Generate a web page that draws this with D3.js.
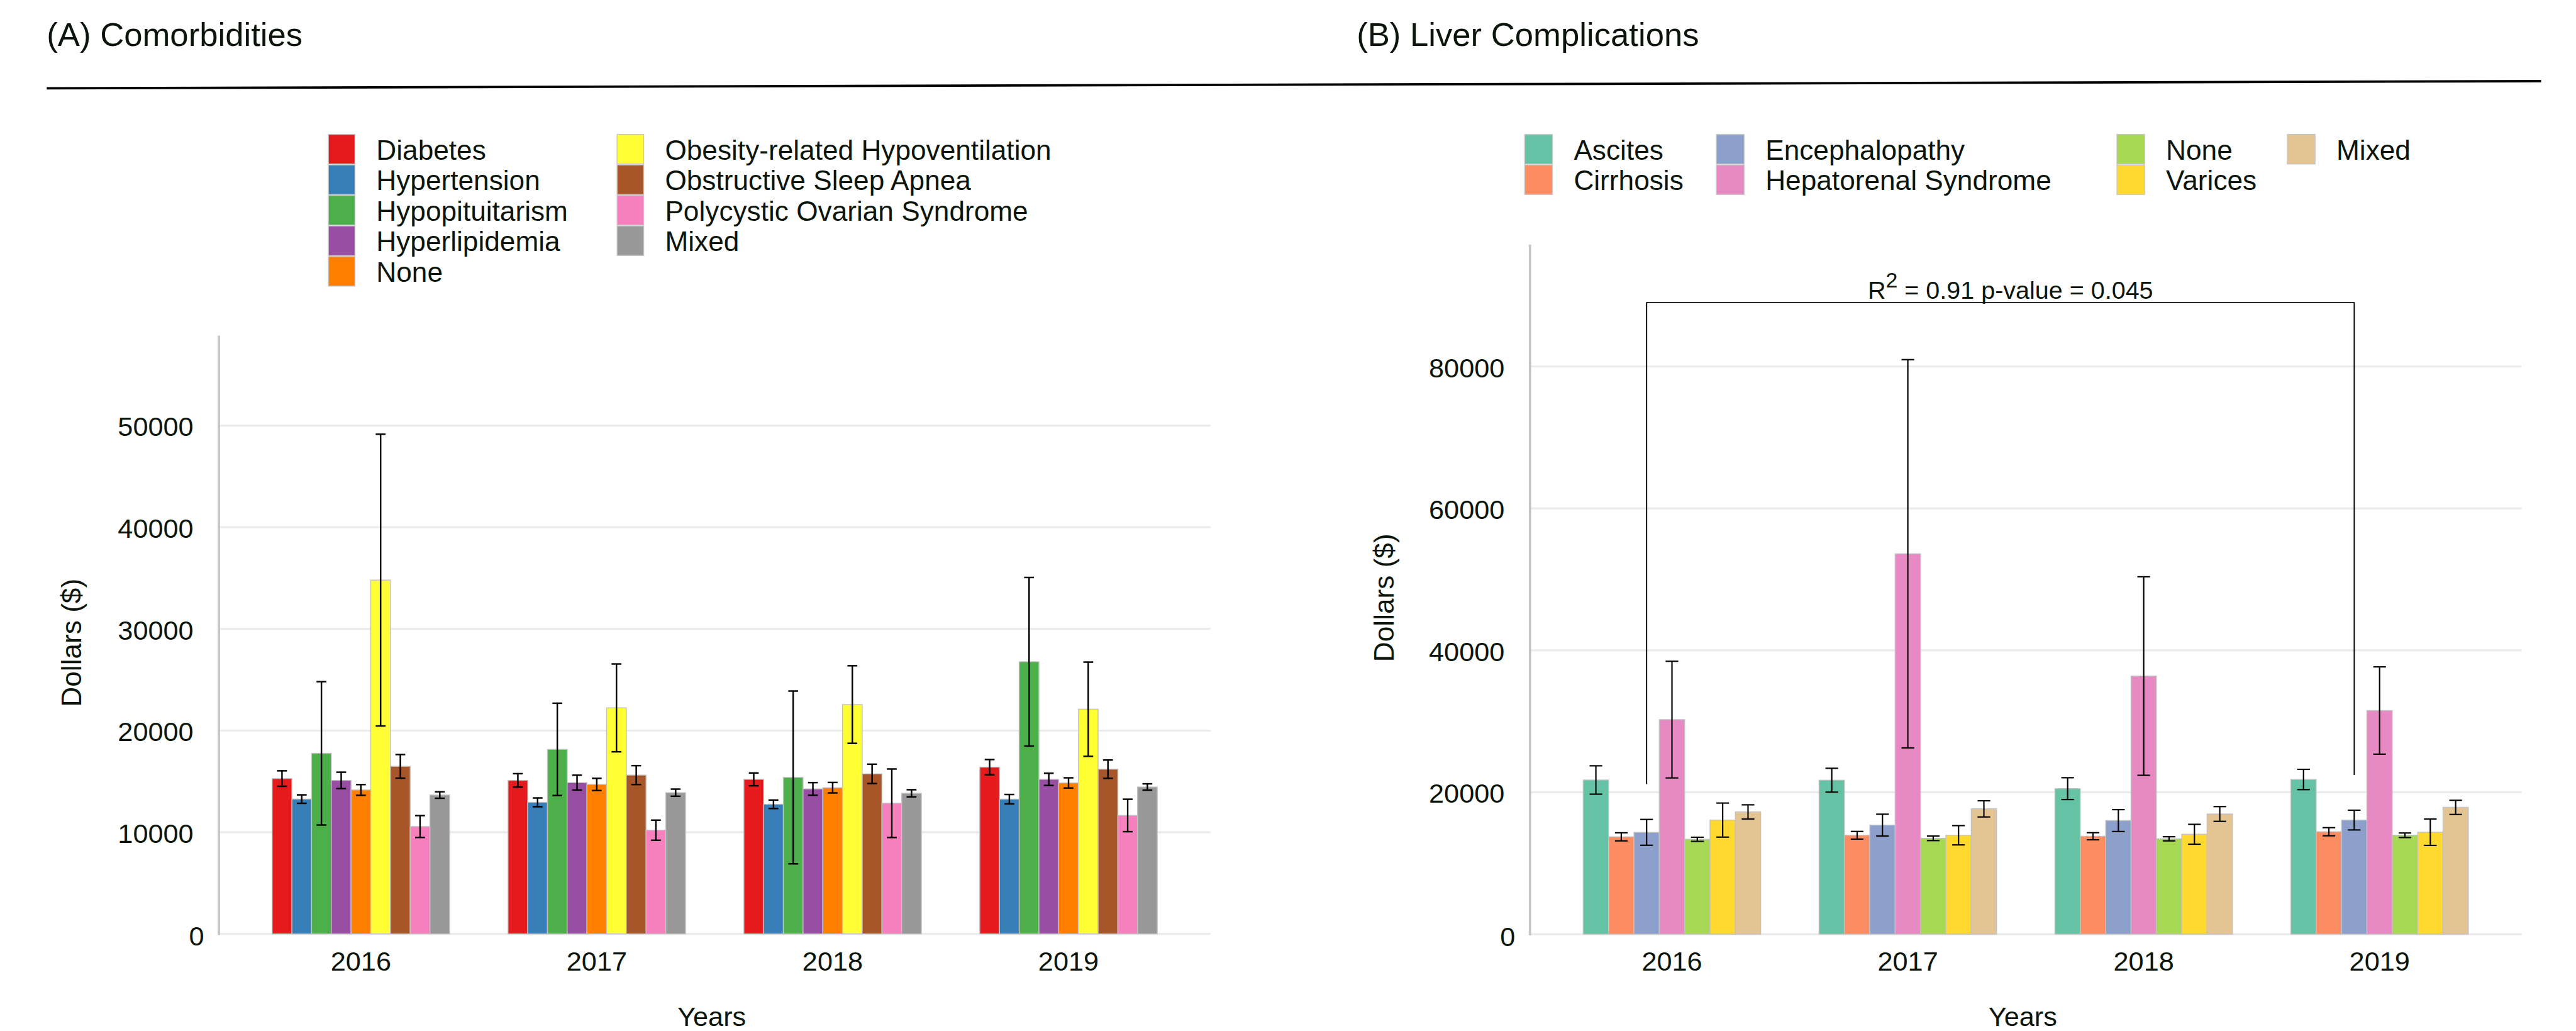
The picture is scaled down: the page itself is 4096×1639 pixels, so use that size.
<!DOCTYPE html>
<html><head><meta charset="utf-8">
<script src="https://cdn.jsdelivr.net/npm/d3@7"></script>
<style>html,body{margin:0;padding:0;background:#fff;overflow:hidden}</style>
</head><body><svg id="chart"></svg>
<script>
// ---------------- DATA ----------------
const years = ["2016", "2017", "2018", "2019"];

// Panel A: Comorbidities
const comorbidities = ["Diabetes", "Hypertension", "Hypopituitarism", "Hyperlipidemia", "None",
  "Obesity-related Hypoventilation", "Obstructive Sleep Apnea", "Polycystic Ovarian Syndrome", "Mixed"];
const comorbColors = ["#e41a1c", "#377eb8", "#4daf4a", "#984ea3", "#ff7f00", "#ffff33", "#a65628", "#f781bf", "#999999"];
const comorbMean2016 = [15280, 13260, 17760, 15100, 14160, 34800, 16480, 10560, 13660];
const comorbErr2016  = [760, 415, 7050, 805, 525, 14350, 1160, 1075, 320];
const comorbMean2017 = [15100, 12940, 18150, 14880, 14700, 22230, 15620, 10200, 13890];
const comorbErr2017  = [660, 430, 4540, 730, 600, 4320, 930, 990, 350];
const comorbMean2018 = [15200, 12750, 15390, 14260, 14380, 22560, 15740, 12850, 13830];
const comorbErr2018  = [630, 415, 8500, 620, 515, 3815, 950, 3370, 350];
const comorbMean2019 = [16400, 13250, 26770, 15200, 14850, 22100, 16200, 11650, 14450];
const comorbErr2019  = [750, 460, 8290, 600, 500, 4635, 900, 1595, 310];
const yTicksA = [0, 10000, 20000, 30000, 40000, 50000];

// Panel B: Liver Complications
const liverComplications = ["Ascites", "Cirrhosis", "Encephalopathy", "Hepatorenal Syndrome", "None", "Varices", "Mixed"];
const liverColors = ["#66c2a5", "#fc8d62", "#8da0cb", "#e78ac3", "#a6d854", "#ffd92f", "#e5c494"];
const liverMean2016 = [21730, 13720, 14350, 30240, 13370, 16080, 17230];
const liverErr2016  = [2000, 570, 1820, 8220, 290, 2400, 1000];
const liverMean2017 = [21700, 13940, 15370, 53610, 13510, 13940, 17660];
const liverErr2017  = [1680, 540, 1540, 27360, 320, 1360, 1140];
const liverMean2018 = [20510, 13800, 16010, 36380, 13440, 14080, 16940];
const liverErr2018  = [1540, 500, 1540, 13990, 290, 1400, 1040];
const liverMean2019 = [21800, 14440, 16080, 31520, 13940, 14370, 17870];
const liverErr2019  = [1430, 570, 1390, 6150, 320, 1860, 1000];
const yTicksB = [0, 20000, 40000, 60000, 80000];

// significance bracket (panel B)
const bracketYears = ["2016", "2019"];
const bracketSeries = "Encephalopathy";
const bracketLegEnds = [21150, 22440];
const bracketTop = 89000;
const bracketLabel = ["R", "2", " = 0.91 p-value = 0.045"];

const titles = ["(A) Comorbidities", "(B) Liver Complications"];
const yAxisTitle = "Dollars ($)";
const xAxisTitle = "Years";

// ---------------- DRAW ----------------
const W = 4354, H = 1742;
const FONT = '"Liberation Sans", Arial, Helvetica, sans-serif';
const TXT = "#0b150b";
const svg = d3.select("#chart").attr("width", 4096).attr("height", 1639)
  .attr("viewBox", `0 0 ${W} ${H}`).style("display", "block");
svg.append("rect").attr("width", W).attr("height", H).attr("fill", "#fff");

// titles and header rule
svg.append("text").attr("x", 79).attr("y", 78).text(titles[0])
  .attr("font-family", FONT).attr("font-size", 56).attr("fill", TXT);
svg.append("text").attr("x", 2293).attr("y", 78).text(titles[1])
  .attr("font-family", FONT).attr("font-size", 56).attr("fill", TXT);
svg.append("line").attr("x1", 79).attr("y1", 149).attr("x2", 4295).attr("y2", 137)
  .attr("stroke", "#000").attr("stroke-width", 4);

function panel(cfg) {
  const g = svg.append("g");
  const plotW = 1676;
  const x0 = d3.scaleBand().domain(years).range([cfg.left, cfg.left + plotW])
    .paddingInner(0.2475).paddingOuter(0.2257);
  const x1 = d3.scaleBand().domain(cfg.series).range([0, x0.bandwidth()]);
  const y = d3.scaleLinear().domain([0, cfg.yMax]).range([cfg.bottom, cfg.top]);

  // grid
  g.selectAll("line.grid").data(cfg.ticks).join("line").attr("class", "grid")
    .attr("x1", cfg.left).attr("x2", cfg.left + plotW)
    .attr("y1", d => y(d)).attr("y2", d => y(d))
    .attr("stroke", "#ebebeb").attr("stroke-width", 3.5);
  // y axis line
  g.append("line").attr("x1", cfg.left).attr("x2", cfg.left)
    .attr("y1", cfg.top).attr("y2", y(0) + 2)
    .attr("stroke", "#c6c6c6").attr("stroke-width", 4);

  // y tick labels
  const ay = g.append("g").attr("transform", `translate(${cfg.left},0)`)
    .call(d3.axisLeft(y).tickValues(cfg.ticks).tickSize(0).tickPadding(43).tickFormat(d3.format("d")));
  ay.select(".domain").remove();
  ay.selectAll("text").attr("font-family", FONT).attr("font-size", 46).attr("fill", TXT).attr("dy", "0.38em");
  ay.selectAll(".tick").filter(d => d === 0).select("text").attr("x", -25).attr("dy", "0.42em");

  // x tick labels
  const ax = g.append("g").attr("transform", `translate(0,${y(0)})`)
    .call(d3.axisBottom(x0).tickSize(0).tickPadding(29));
  ax.select(".domain").remove();
  ax.selectAll("text").attr("font-family", FONT).attr("font-size", 46).attr("fill", TXT);

  // bars
  const rows = [];
  years.forEach((yr, yi) => {
    cfg.series.forEach((s, si) => {
      rows.push({ year: yr, series: s, color: cfg.colors[si], mean: cfg.means[yi][si], err: cfg.errs[yi][si] });
    });
  });
  g.selectAll("rect.bar").data(rows).join("rect").attr("class", "bar")
    .attr("x", d => x0(d.year) + x1(d.series))
    .attr("y", d => y(d.mean))
    .attr("width", x1.bandwidth())
    .attr("height", d => y(0) - y(d.mean))
    .attr("fill", d => d.color)
    .attr("stroke", "#c2c2c2").attr("stroke-width", 1.5);

  // error bars
  const cap = x1.bandwidth() / 2;
  const eg = g.selectAll("g.err").data(rows).join("g").attr("class", "err")
    .attr("transform", d => `translate(${x0(d.year) + x1(d.series) + x1.bandwidth() / 2},0)`);
  eg.append("line").attr("x1", 0).attr("x2", 0)
    .attr("y1", d => y(d.mean - d.err)).attr("y2", d => y(d.mean + d.err))
    .attr("stroke", "#000").attr("stroke-width", cfg.errW);
  eg.append("line").attr("x1", -cap / 2).attr("x2", cap / 2)
    .attr("y1", d => y(d.mean + d.err)).attr("y2", d => y(d.mean + d.err))
    .attr("stroke", "#000").attr("stroke-width", cfg.errW);
  eg.append("line").attr("x1", -cap / 2).attr("x2", cap / 2)
    .attr("y1", d => y(d.mean - d.err)).attr("y2", d => y(d.mean - d.err))
    .attr("stroke", "#000").attr("stroke-width", cfg.errW);

  // axis titles
  g.append("text").text(yAxisTitle)
    .attr("transform", `translate(${cfg.yTitleX},${cfg.yTitleY}) rotate(-90)`)
    .attr("text-anchor", "middle").attr("dy", "0.35em")
    .attr("font-family", FONT).attr("font-size", 47).attr("fill", TXT);
  g.append("text").text(xAxisTitle)
    .attr("x", cfg.left + plotW / 2 - 5).attr("y", 1734)
    .attr("text-anchor", "middle")
    .attr("font-family", FONT).attr("font-size", 46).attr("fill", TXT);

  // legend
  cfg.legendCols.forEach((col, ci) => {
    col.forEach((si, ri) => {
      const lx = cfg.legendX[ci], ly = 227 + ri * 51.6;
      g.append("rect").attr("x", lx).attr("y", ly).attr("width", cfg.swatchW).attr("height", 50)
        .attr("fill", cfg.colors[si]).attr("stroke", "#c8c8c8").attr("stroke-width", 1.5);
      g.append("text").attr("x", lx + cfg.labelOff).attr("y", ly + 42.5).text(cfg.series[si])
        .attr("font-family", FONT).attr("font-size", 47).attr("fill", TXT);
    });
  });

  return { x0, x1, y, g };
}

const pA = panel({
  left: 370, top: 567, bottom: 1578, yMax: 58850,
  series: comorbidities, colors: comorbColors, ticks: yTicksA,
  means: [comorbMean2016, comorbMean2017, comorbMean2018, comorbMean2019],
  errs: [comorbErr2016, comorbErr2017, comorbErr2018, comorbErr2019],
  errW: 2.6, yTitleX: 121, yTitleY: 1086,
  legendCols: [[0, 1, 2, 3, 4], [5, 6, 7, 8]], legendX: [555, 1043], swatchW: 45, labelOff: 81
});

const pB = panel({
  left: 2586, top: 413, bottom: 1578.5, yMax: 97200,
  series: liverComplications, colors: liverColors, ticks: yTicksB,
  means: [liverMean2016, liverMean2017, liverMean2018, liverMean2019],
  errs: [liverErr2016, liverErr2017, liverErr2018, liverErr2019],
  errW: 2.3, yTitleX: 2339, yTitleY: 1010,
  legendCols: [[0, 1], [2, 3], [4, 5], [6]], legendX: [2577, 2901, 3578, 3866], swatchW: 47, labelOff: 83
});

// significance bracket
const bx = bracketYears.map(yr => pB.x0(yr) + pB.x1(bracketSeries) + pB.x1.bandwidth() / 2);
const by = pB.y;
pB.g.append("path")
  .attr("d", `M${bx[0]},${by(bracketLegEnds[0])} V${by(bracketTop)} H${bx[1]} V${by(bracketLegEnds[1])}`)
  .attr("fill", "none").attr("stroke", "#000").attr("stroke-width", 2);
const lbl = pB.g.append("text").attr("x", 3157).attr("y", by(bracketTop) - 7)
  .attr("font-family", FONT).attr("font-size", 42).attr("fill", TXT);
lbl.append("tspan").text(bracketLabel[0]);
lbl.append("tspan").text(bracketLabel[1]).attr("font-size", 36).attr("dy", -19);
lbl.append("tspan").text(bracketLabel[2]).attr("dy", 19);
</script>
</body></html>
